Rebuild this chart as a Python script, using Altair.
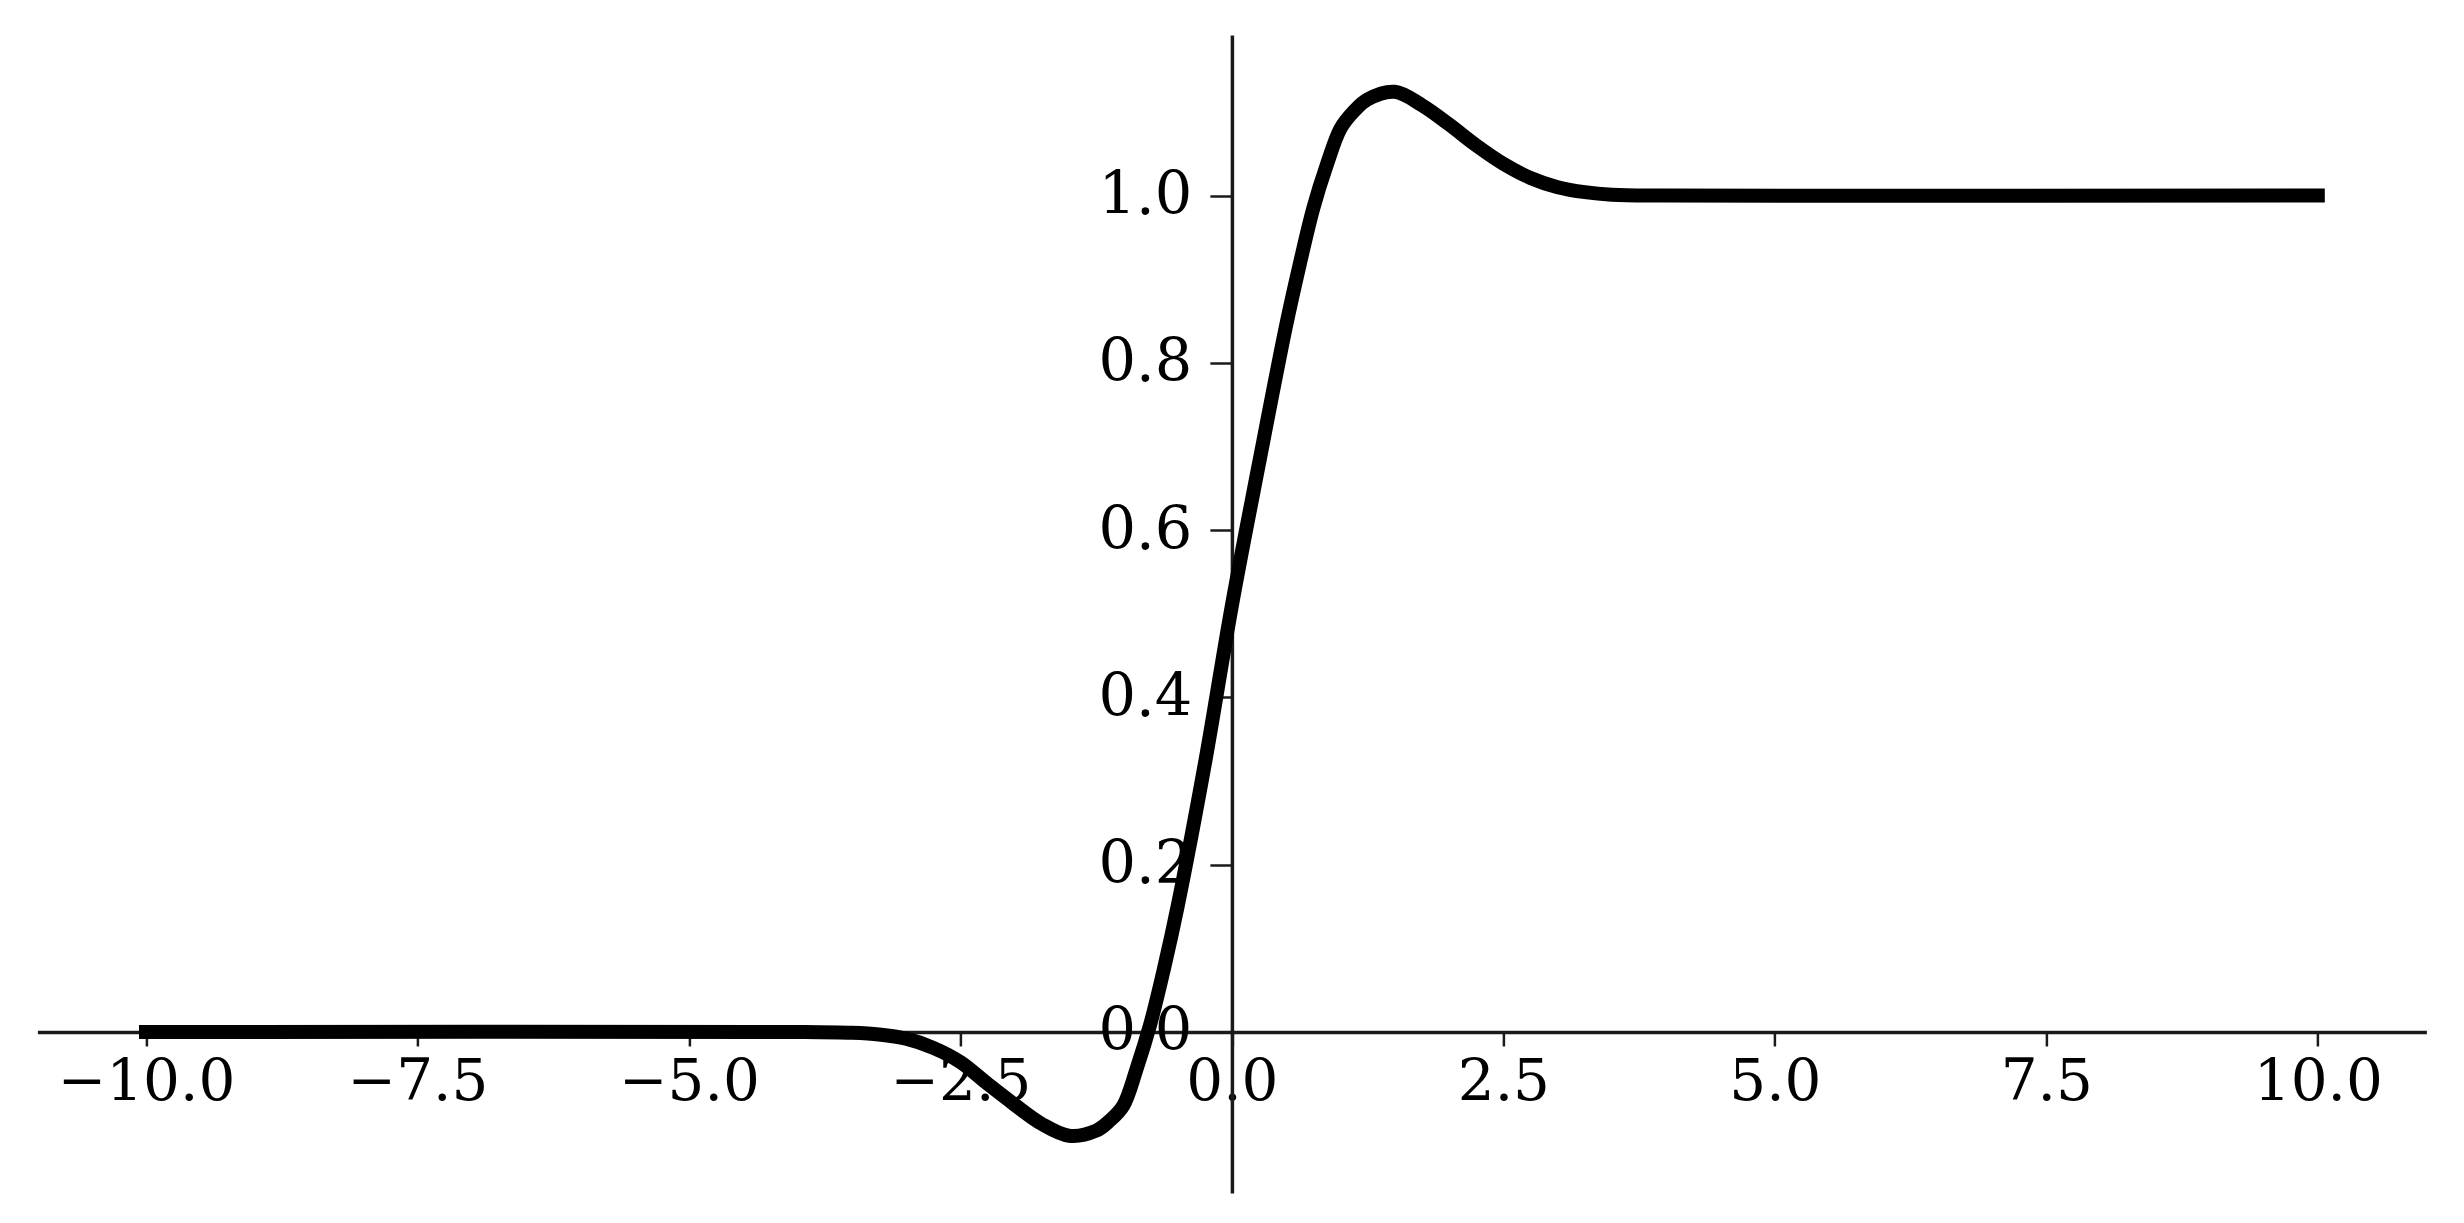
import altair as alt
import pandas as pd

# Curve values
x_vals = [-10.0, -4.0, -3.5, -3.25, -3.0, -2.75, -2.5, -2.25, -2.0, -1.75, -1.5,
          -1.25, -1.125, -1.0, -0.875, -0.75, -0.625, -0.5, -0.25, 0.0, 0.25, 0.5, 0.625,
          0.75, 0.875, 1.0, 1.125, 1.25, 1.5,
          1.75, 2.0, 2.25, 2.5, 2.75, 3.0, 3.25, 3.5, 4.0, 10.0]
y_vals = [0.0, 0.0, -0.001, -0.003, -0.008, -0.019, -0.036, -0.062, -0.087, -0.110, -0.124,
          -0.118, -0.106, -0.088, -0.043, 0.01, 0.076, 0.15, 0.32, 0.51, 0.68, 0.845, 0.918,
          0.985, 1.037, 1.08, 1.101, 1.115, 1.124,
          1.108, 1.085, 1.060, 1.038, 1.021, 1.010, 1.004, 1.001, 1.0, 1.0]

x_ticks = [-10.0, -7.5, -5.0, -2.5, 0.0, 2.5, 5.0, 7.5, 10.0]
y_ticks = [0.0, 0.2, 0.4, 0.6, 0.8, 1.0]

x_domain = [-11.0, 11.0]
y_domain = [-0.1925, 1.1919]

W = 2389
H = 1158

df = pd.DataFrame({"x": x_vals, "y": y_vals})

# place axes through the origin
x_axis_offset = -(0 - y_domain[0]) / (y_domain[1] - y_domain[0]) * H
y_axis_offset = -(0 - x_domain[0]) / (x_domain[1] - x_domain[0]) * W

axis_color = "#1a1a1a"

chart = alt.Chart(df).mark_line(
    color="black", strokeWidth=14, interpolate="catmull-rom",
    strokeCap="square", strokeJoin="round"
).encode(
    x=alt.X("x:Q",
            scale=alt.Scale(domain=x_domain, nice=False, zero=False),
            axis=alt.Axis(orient="bottom", offset=x_axis_offset, values=x_ticks,
                          format=".1f", title=None, grid=False,
                          domainColor=axis_color, domainWidth=3.5,
                          tickColor=axis_color, tickWidth=2.5, tickSize=14,
                          labelFont="DejaVu Serif", labelFontSize=58,
                          labelColor="black", labelPadding=8,
                          labelOverlap=False, labelFlush=False, labelBound=False)),
    y=alt.Y("y:Q",
            scale=alt.Scale(domain=y_domain, nice=False, zero=False),
            axis=alt.Axis(orient="left", offset=y_axis_offset, values=y_ticks,
                          format=".1f", title=None, grid=False,
                          domainColor=axis_color, domainWidth=3.5,
                          tickColor=axis_color, tickWidth=2.5, tickSize=22,
                          labelFont="DejaVu Serif", labelFontSize=59,
                          labelColor="black", labelPadding=18,
                          labelOverlap=False, labelFlush=False, labelBound=False)),
).properties(
    width=W,
    height=H,
    autosize=alt.AutoSizeParams(type="none"),
    padding={"left": 29.4, "top": 27, "right": 20, "bottom": 10},
    background="white",
).configure_view(stroke=None)

chart.save("out.html", embed_options={"renderer": "svg", "actions": False})
